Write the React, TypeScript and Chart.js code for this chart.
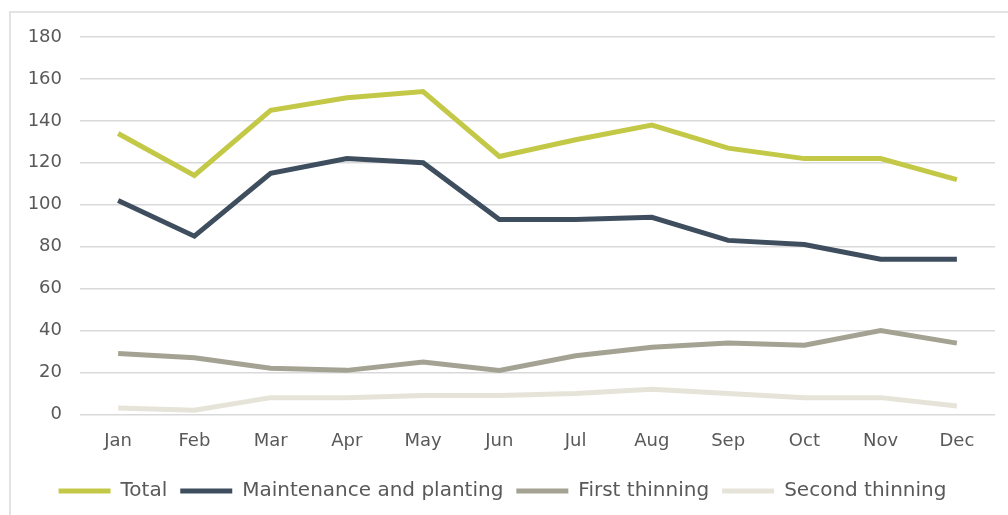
import React, { useEffect, useRef } from "react";
import { Chart, registerables } from "chart.js";

Chart.register(...registerables);

const months = ["Jan", "Feb", "Mar", "Apr", "May", "Jun", "Jul", "Aug", "Sep", "Oct", "Nov", "Dec"];
const total = [134, 114, 145, 151, 154, 123, 131, 138, 127, 122, 122, 112];
const maintenance = [102, 85, 115, 122, 120, 93, 93, 94, 83, 81, 74, 74];
const firstThinning = [29, 27, 22, 21, 25, 21, 28, 32, 34, 33, 40, 34];
const secondThinning = [3, 2, 8, 8, 9, 9, 10, 12, 10, 8, 8, 4];

const seriesNames = ["Total", "Maintenance and planting", "First thinning", "Second thinning"];
const seriesColors = ["#c3c947", "#3f4e5f", "#a4a393", "#e6e3d8"];

const FONT = "'DejaVu Sans', sans-serif";
const TEXT = "#595959";

export default function App() {
  const ref = useRef<HTMLCanvasElement | null>(null);
  useEffect(() => {
    const values = [total, maintenance, firstThinning, secondThinning];
    const chart = new Chart(ref.current!, {
      type: "line",
      data: {
        labels: months,
        datasets: values.map((v, i) => ({
          label: seriesNames[i],
          data: v,
          borderColor: seriesColors[i],
          backgroundColor: seriesColors[i],
          borderWidth: 5,
          pointRadius: 0,
          tension: 0,
          fill: false,
        })),
      },
      options: {
        animation: false,
        responsive: false,
        maintainAspectRatio: false,
        layout: { padding: { left: 10, right: 13, top: 37, bottom: 4 } },
        plugins: {
          tooltip: { enabled: false },
          legend: {
            position: "bottom",
            labels: {
              boxWidth: 52,
              boxHeight: 5,
              padding: 13,
              color: TEXT,
              font: { family: FONT, size: 20 },
              generateLabels: (c: any) => {
                const items = Chart.defaults.plugins.legend.labels.generateLabels(c);
                return items.map((it: any) => ({ ...it, lineWidth: 0 }));
              },
            },
          },
        },
        scales: {
          x: {
            offset: true,
            grid: { display: false, drawTicks: false, offset: true },
            border: { display: false },
            ticks: { color: TEXT, font: { family: FONT, size: 18 }, padding: 16 },
          },
          y: {
            min: 0,
            max: 180,
            afterFit: (s: any) => { s.width = 70; },
            grid: { color: "#d9d9d9", lineWidth: 1.5, drawTicks: false },
            border: { display: false },
            ticks: { stepSize: 20, color: TEXT, font: { family: FONT, size: 18 }, padding: 18 },
          },
        },
      },
    });
    return () => chart.destroy();
  }, []);
  return (
    <div style={{ position: "fixed", left: 0, top: 0, width: 1008, height: 515, background: "#fff" }}>
      <div style={{ position: "absolute", left: 9, top: 11, width: 1010, height: 520, borderTop: "2px solid #e3e3e3", borderLeft: "2px solid #e3e3e3" }} />
      <canvas ref={ref} width={1008} height={515} style={{ position: "absolute", left: 0, top: 0 }} />
    </div>
  );
}
